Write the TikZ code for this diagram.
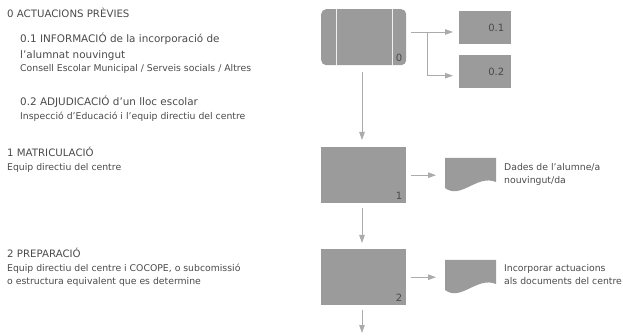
\documentclass[tikz,border=0pt]{standalone}
\usepackage{fontspec}
\setmainfont{DejaVu Sans}
\usetikzlibrary{arrows.meta}

\definecolor{boxgray}{HTML}{9B9B9B}
\definecolor{linegray}{HTML}{ABABAB}
\definecolor{txtgray}{HTML}{4A4A4A}

\tikzset{
    proc/.style={fill=boxgray, anchor=north west, minimum width=85pt, minimum height=56pt, inner sep=0pt},
    outbox/.style={fill=boxgray, anchor=north west, minimum width=52pt, minimum height=33pt, inner sep=0pt},
    docbox/.style={anchor=north west, minimum width=51pt, minimum height=34pt, inner sep=0pt},
    num/.style={text=txtgray, font=\fontsize{10}{12}\selectfont, anchor=south east, inner sep=4pt},
    arr/.style={draw=linegray, line width=0.9pt, -{Triangle[length=8pt,width=5.5pt]}},
    title/.style={text=txtgray, anchor=base west, inner sep=0pt, font=\fontsize{10.2}{12}\selectfont},
    head/.style={text=txtgray, anchor=base west, inner sep=0pt, align=left, font=\fontsize{10.4}{16}\selectfont},
    who/.style={text=txtgray, anchor=base west, inner sep=0pt, align=left, font=\fontsize{9.3}{13.3}\selectfont},
    outtext/.style={text=txtgray, anchor=base west, inner sep=0pt, align=left, font=\fontsize{9.3}{13.5}\selectfont},
}

\begin{document}
\begin{tikzpicture}[x=1pt, y=-1pt]
    \useasboundingbox (0,0) rectangle (623,336);

    %texts on the left (multi-line nodes sit on their last line)
    \node[title] (t0) at (7,18) {0 ACTUACIONS PRÈVIES};
    \node[head] (t01) at (20,59) {0.1 INFORMACIÓ de la incorporació de\\l’alumnat nouvingut};
    \node[who] (t01w) at (20,72) {Consell Escolar Municipal / Serveis socials / Altres};
    \node[head] (t02) at (20,106) {0.2 ADJUDICACIÓ d’un lloc escolar};
    \node[who] (t02w) at (20,120) {Inspecció d’Educació i l’equip directiu del centre};
    \node[title] (t1) at (7,157) {1 MATRICULACIÓ};
    \node[who] (t1w) at (7,171) {Equip directiu del centre};
    \node[title] (t2) at (7,258) {2 PREPARACIÓ};
    \node[who] (t2w) at (7,285) {Equip directiu del centre i COCOPE, o subcomissió\\o estructura equivalent que es determine};

    %process boxes
    \node[proc, rounded corners=5pt] (p0) at (321,9) {};
    \draw[white!85!boxgray, line width=0.8pt] (336,9) -- (336,65) (392,9) -- (392,65);
    \node[num] (n0) at (p0.south east) {0};
    \node[outbox] (p01) at (459,11) {};
    \node[num, anchor=east, inner sep=0pt] (n01) at ([xshift=-7pt]p01.east) {0.1};
    \node[outbox] (p02) at (459,55) {};
    \node[num, anchor=east, inner sep=0pt] (n02) at ([xshift=-7pt]p02.east) {0.2};
    \node[proc] (p1) at (321,147) {};
    \node[num] (n1) at (p1.south east) {1};
    \node[proc] (p2) at (321,249) {};
    \node[num] (n2) at (p2.south east) {2};

    %documents with wavy bottom
    \node[docbox] (d1) at (445,158) {};
    \node[docbox] (d2) at (445,260) {};
    \foreach \d in {d1,d2}{
        \begin{scope}[shift={(\d.north west)}]
            \fill[boxgray] (0,0) -- (51,0) -- (51,24) .. controls (32,16) and (16,42) .. (0,30) -- cycle;
        \end{scope}
    }
    \node[outtext] (r1) at (504,184) {Dades de l’alumne/a\\nouvingut/da};
    \node[outtext] (r2) at (504,285) {Incorporar actuacions\\als documents del centre};

    %connectors
    \coordinate (fork) at (427,32);
    \coordinate (end) at (362,333);
    \draw[draw=linegray, line width=0.9pt] ([xshift=5pt]p0.east |- fork) -- (fork);
    \draw[arr] (fork) -- ([xshift=-6pt]p01.west |- fork);
    \draw[arr] (fork) |- ([xshift=-6pt,yshift=-4pt]p02.west);
    \draw[arr] ([yshift=-7pt]p0.south -| end) -- ([yshift=7pt]p1.north -| end);
    \draw[arr] ([yshift=-5pt]p1.south -| end) -- ([yshift=6pt]p2.north -| end);
    \draw[arr] ([yshift=-5pt]p2.south -| end) -- (end);
    \draw[arr] ([xshift=5pt]p1.east) -- ([xshift=-9pt]d1.west |- p1.east);
    \draw[arr] ([xshift=5pt]p2.east) -- ([xshift=-9pt]d2.west |- p2.east);
\end{tikzpicture}
\end{document}
